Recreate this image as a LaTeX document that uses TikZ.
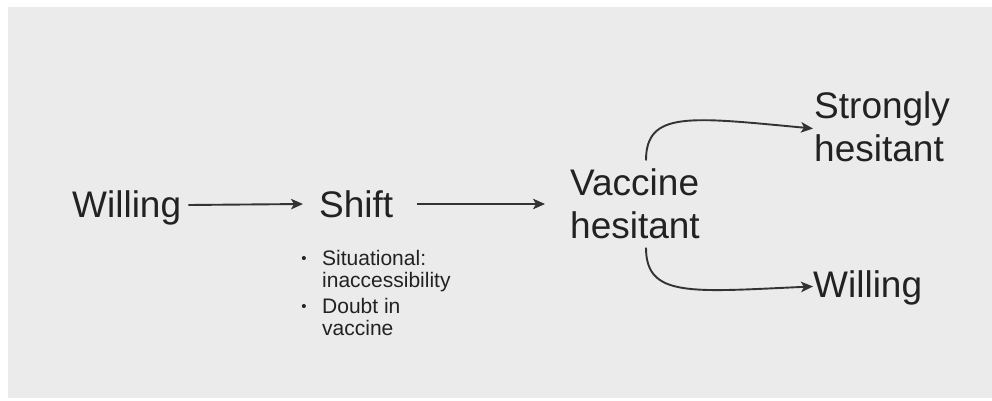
\documentclass[tikz,border=0pt]{standalone}
\usepackage{fontspec}
\setmainfont{Liberation Sans}
\usetikzlibrary{arrows.meta,calc}
\definecolor{bgc}{HTML}{EBEBEB}
\definecolor{txt}{HTML}{222222}
\definecolor{arc}{HTML}{333333}
\tikzset{
  big/.style={font=\fontsize{37}{42.5}\selectfont, text=txt, inner sep=0pt, align=left},
  small/.style={font=\fontsize{21}{22}\selectfont, text=txt, inner sep=0pt, align=left},
  bul/.style={text=txt, inner sep=0pt, font=\fontsize{15}{15}\selectfont},
  arr/.style={draw=arc, line width=1.9pt, -{Stealth[length=12pt,width=10.5pt,inset=3pt]}},
}
\begin{document}
\begin{tikzpicture}[x=1pt,y=-1pt]
\useasboundingbox (0,0) rectangle (992,401);
\fill[white] (0,0) rectangle (992,401);
\fill[bgc] (8,7) rectangle (992,398);
\node[big, anchor=base west] (w1) at (72,217) {Willing};
\node[big, anchor=base west] (shift) at (319,217) {Shift};
\node[big, anchor=base west] (vh) at (570,238) {Vaccine\\hesitant};
\node[big, anchor=base west] (sh) at (814,161) {Strongly\\hesitant};
\node[big, anchor=base west] (w2) at (813,297) {Willing};
\node[small, anchor=base west] (list) at (322,335) {Situational:\\inaccessibility\\[4pt]Doubt in\\vaccine};
\node[bul] (b1) at (304,259.5) {•};
\node[bul] (b2) at (304,308) {•};
\draw[arr] ([shift={(7,-12)}]w1.base east) -- ([shift={(-16,-13)}]shift.base west);
\draw[arr] ([shift={(24,-13)}]shift.base east) -- ([shift={(-25,-13)}]shift.base east -| vh.west);
\coordinate (vtop) at ([xshift=11pt,yshift=8pt]vh.north);
\coordinate (vbot) at ([xshift=11pt,yshift=-9pt]vh.south);
\draw[arr] (vtop) .. controls ($(vtop)+(0,-50)$) and (690,117) .. ([xshift=-1pt,yshift=-2pt]sh.west);
\draw[arr] (vbot) .. controls ($(vbot)+(0,50)$) and (690,292) .. ([yshift=1pt]w2.west);
\end{tikzpicture}
\end{document}
